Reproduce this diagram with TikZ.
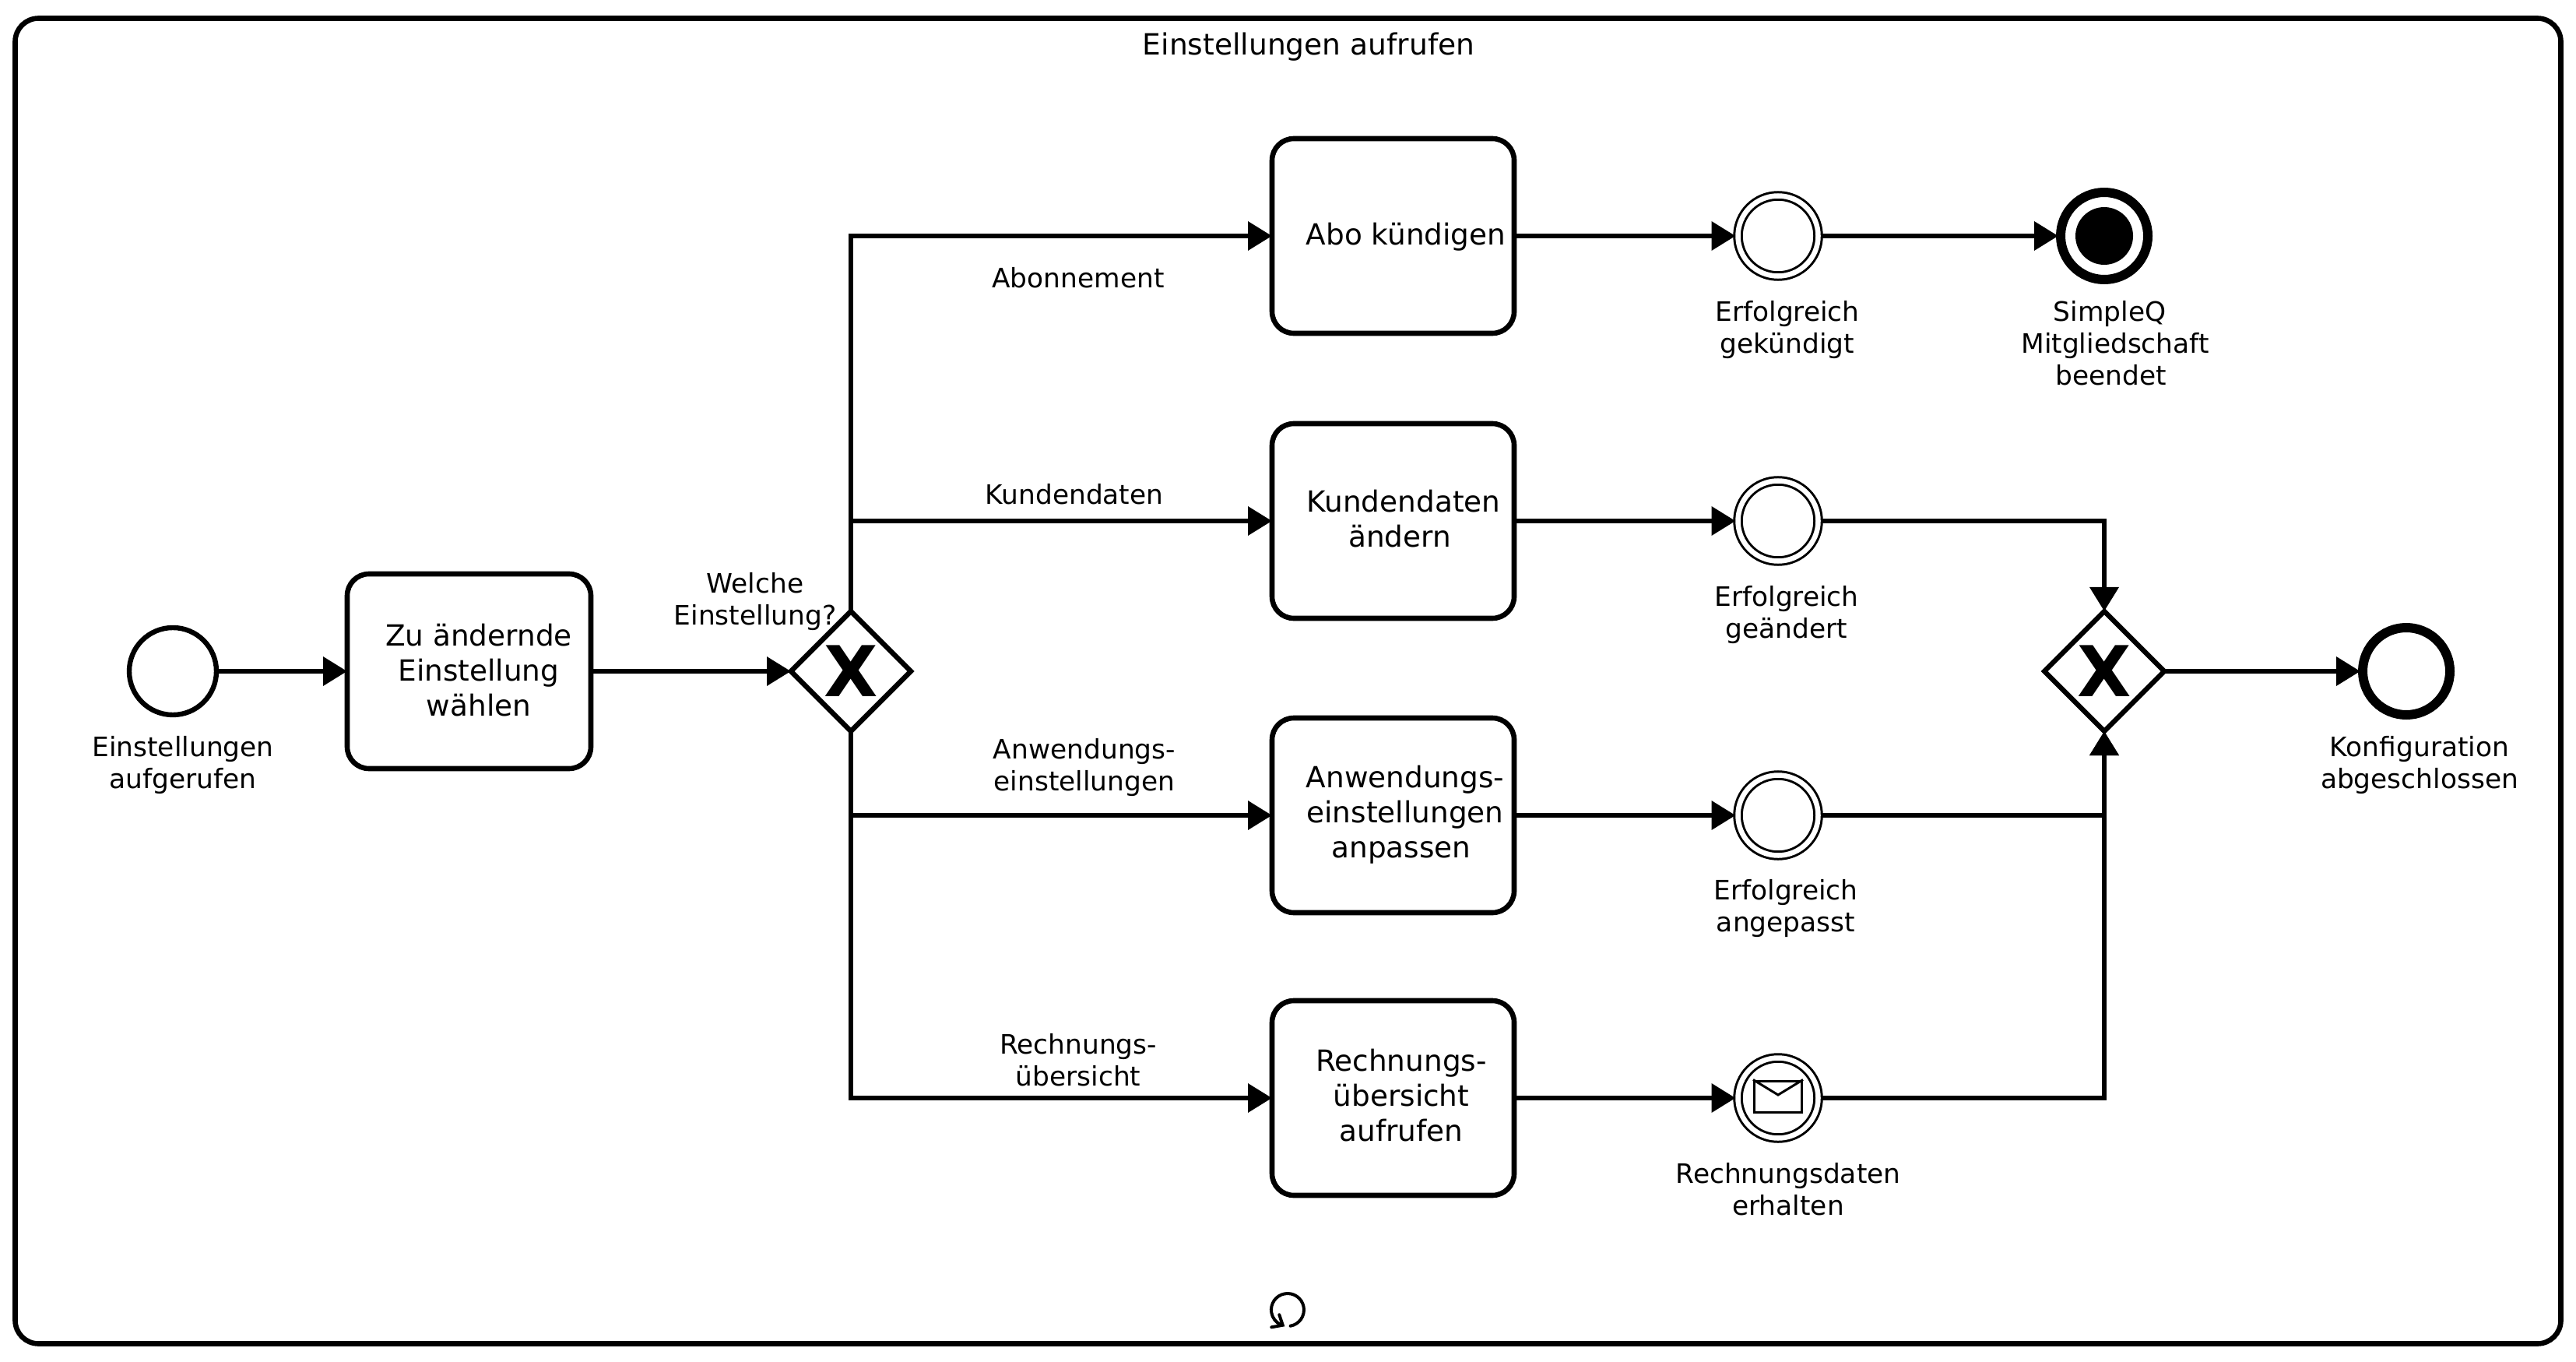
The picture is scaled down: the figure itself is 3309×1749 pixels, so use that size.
\documentclass[tikz,border=0pt]{standalone}
\usepackage{fontspec}
\setmainfont{DejaVu Sans}
\usetikzlibrary{arrows.meta, shapes.geometric}

\tikzset{
	flow/.style={line width=3.4pt, -{Triangle[length=15.5pt,width=18pt]}},
	taskbox/.style={draw, line width=3.3pt, rounded corners=14pt, inner sep=0pt, outer sep=0pt, minimum width=155.5pt, minimum height=125pt},
	tasktext/.style={align=center, inner sep=0pt, font=\fontsize{18.7}{22.5}\selectfont},
	gate/.style={draw, diamond, line width=3.2pt, inner sep=0pt, outer sep=0pt, minimum width=77pt, minimum height=77pt, font=\fontsize{45}{45}\selectfont\bfseries},
	startevent/.style={draw, circle, line width=3.2pt, inner sep=0pt, minimum size=56pt},
	midevent/.style={draw, circle, double, line width=1.5pt, double distance=3.25pt, inner sep=0pt, outer sep=1.5pt, minimum size=51.5pt},
	endevent/.style={draw, circle, line width=6pt, inner sep=0pt, outer sep=1.5pt, minimum size=56pt},
	lbl/.style={align=center, inner sep=0pt, font=\fontsize{17.2}{20.5}\selectfont}
}

\begin{document}
\begin{tikzpicture}[x=0.5pt, y=-0.5pt]
	\useasboundingbox (0,0) rectangle (3309,1749);

	% the outer frame with its title and loop marker
	\node[draw, line width=3.3pt, rounded corners=15pt, inner sep=0pt, minimum width=1635pt, minimum height=851pt] (frame) at (1654.5,874.5) {};
	\node[lbl, font=\fontsize{18.8}{22}\selectfont] (frametitle) at (1681,60) {Einstellungen aufrufen};
	\draw[line width=2pt, line cap=round] (1657.6,1702.7) arc[start angle=-80, end angle=245, radius=10.5pt];
	\draw[line width=2pt, line cap=round] (1643.3,1688.3) -- (1647.7,1701.7) -- (1633.3,1704.3);

	% events and gateways
	\node[startevent] (start) at (222,862) {};
	\node[gate] (gwsplit) at (1093,862) {X};
	\node[gate] (gwjoin) at (2703,862) {X};
	\node[endevent] (done) at (3091,862) {};
	\node[endevent] (quit) at (2703,303) {};
	\node[fill, circle, inner sep=0pt, minimum size=37pt] (quitdot) at (quit) {};

	% tasks with their texts
	\node[taskbox, minimum width=156.5pt] (choose) at (602.5,862) {};
	\node[tasktext] (choosetext) at (615,861) {Zu ändernde\\Einstellung\\wählen};
	\foreach \n/\y in {1/303, 2/669, 3/1047, 4/1410} {
		\node[taskbox] (task\n) at (1789.5,\y) {};
		\node[midevent] (ev\n) at (2284,\y) {};
	}
	\node[tasktext] (tasktext1) at (1806,304) {Abo kündigen};
	\node[tasktext] (tasktext2) at (1803,666) {Kundendaten\\ändern\hspace*{5pt}};
	\node[tasktext] (tasktext3) at (1805,1046) {Anwendungs-\\einstellungen\\anpassen\hspace*{5pt}};
	\node[tasktext] (tasktext4) at (1800,1407) {Rechnungs-\\übersicht\\aufrufen};

	% envelope
	\node[draw, line width=1.5pt, inner sep=0pt, minimum width=30.5pt, minimum height=20pt] (env) at (2284,1408) {};
	\draw[line width=1.5pt] (env.north west) -- (2284,1406) -- (env.north east);

	% sequence flows
	\draw[flow] (start) -- (choose);
	\draw[flow] (choose) -- (gwsplit);
	\foreach \n in {1,2,3,4} {
		\draw[flow] (gwsplit) |- (task\n);
		\draw[flow] (task\n) -- (ev\n);
	}
	\draw[flow] (ev1) -- (quit);
	\draw[flow] (ev2) -| (gwjoin);
	\draw[flow] (ev3) -| (gwjoin);
	\draw[flow] (ev4) -| (gwjoin);
	\draw[flow] (gwjoin) -- (done);

	% labels
	\node[lbl] (lblstart) at (235,983) {Einstellungen\\aufgerufen};
	\node[lbl] (lblsplit) at (970,773) {Welche\\Einstellung?};
	\node[lbl] (lbl1) at (1385,357) {Abonnement};
	\node[lbl] (lbl2) at (1380,635) {Kundendaten};
	\node[lbl] (lbl3) at (1393,986) {Anwendungs-\\einstellungen};
	\node[lbl] (lbl4) at (1385,1361) {Rechnungs-\\übersicht};
	\node[lbl] (lblev1) at (2296,424) {Erfolgreich\\gekündigt};
	\node[lbl] (lblev2) at (2295,790) {Erfolgreich\\geändert};
	\node[lbl] (lblev3) at (2294,1167) {Erfolgreich\\angepasst};
	\node[lbl] (lblev4) at (2297,1527) {Rechnungsdaten\\erhalten};
	\node[lbl] (lblquit) at (2717,441) {SimpleQ\hspace*{7pt}\\Mitgliedschaft\\beendet\hspace*{5pt}};
	\node[lbl] (lbldone) at (3108,983) {Konfiguration\\abgeschlossen};
\end{tikzpicture}
\end{document}
